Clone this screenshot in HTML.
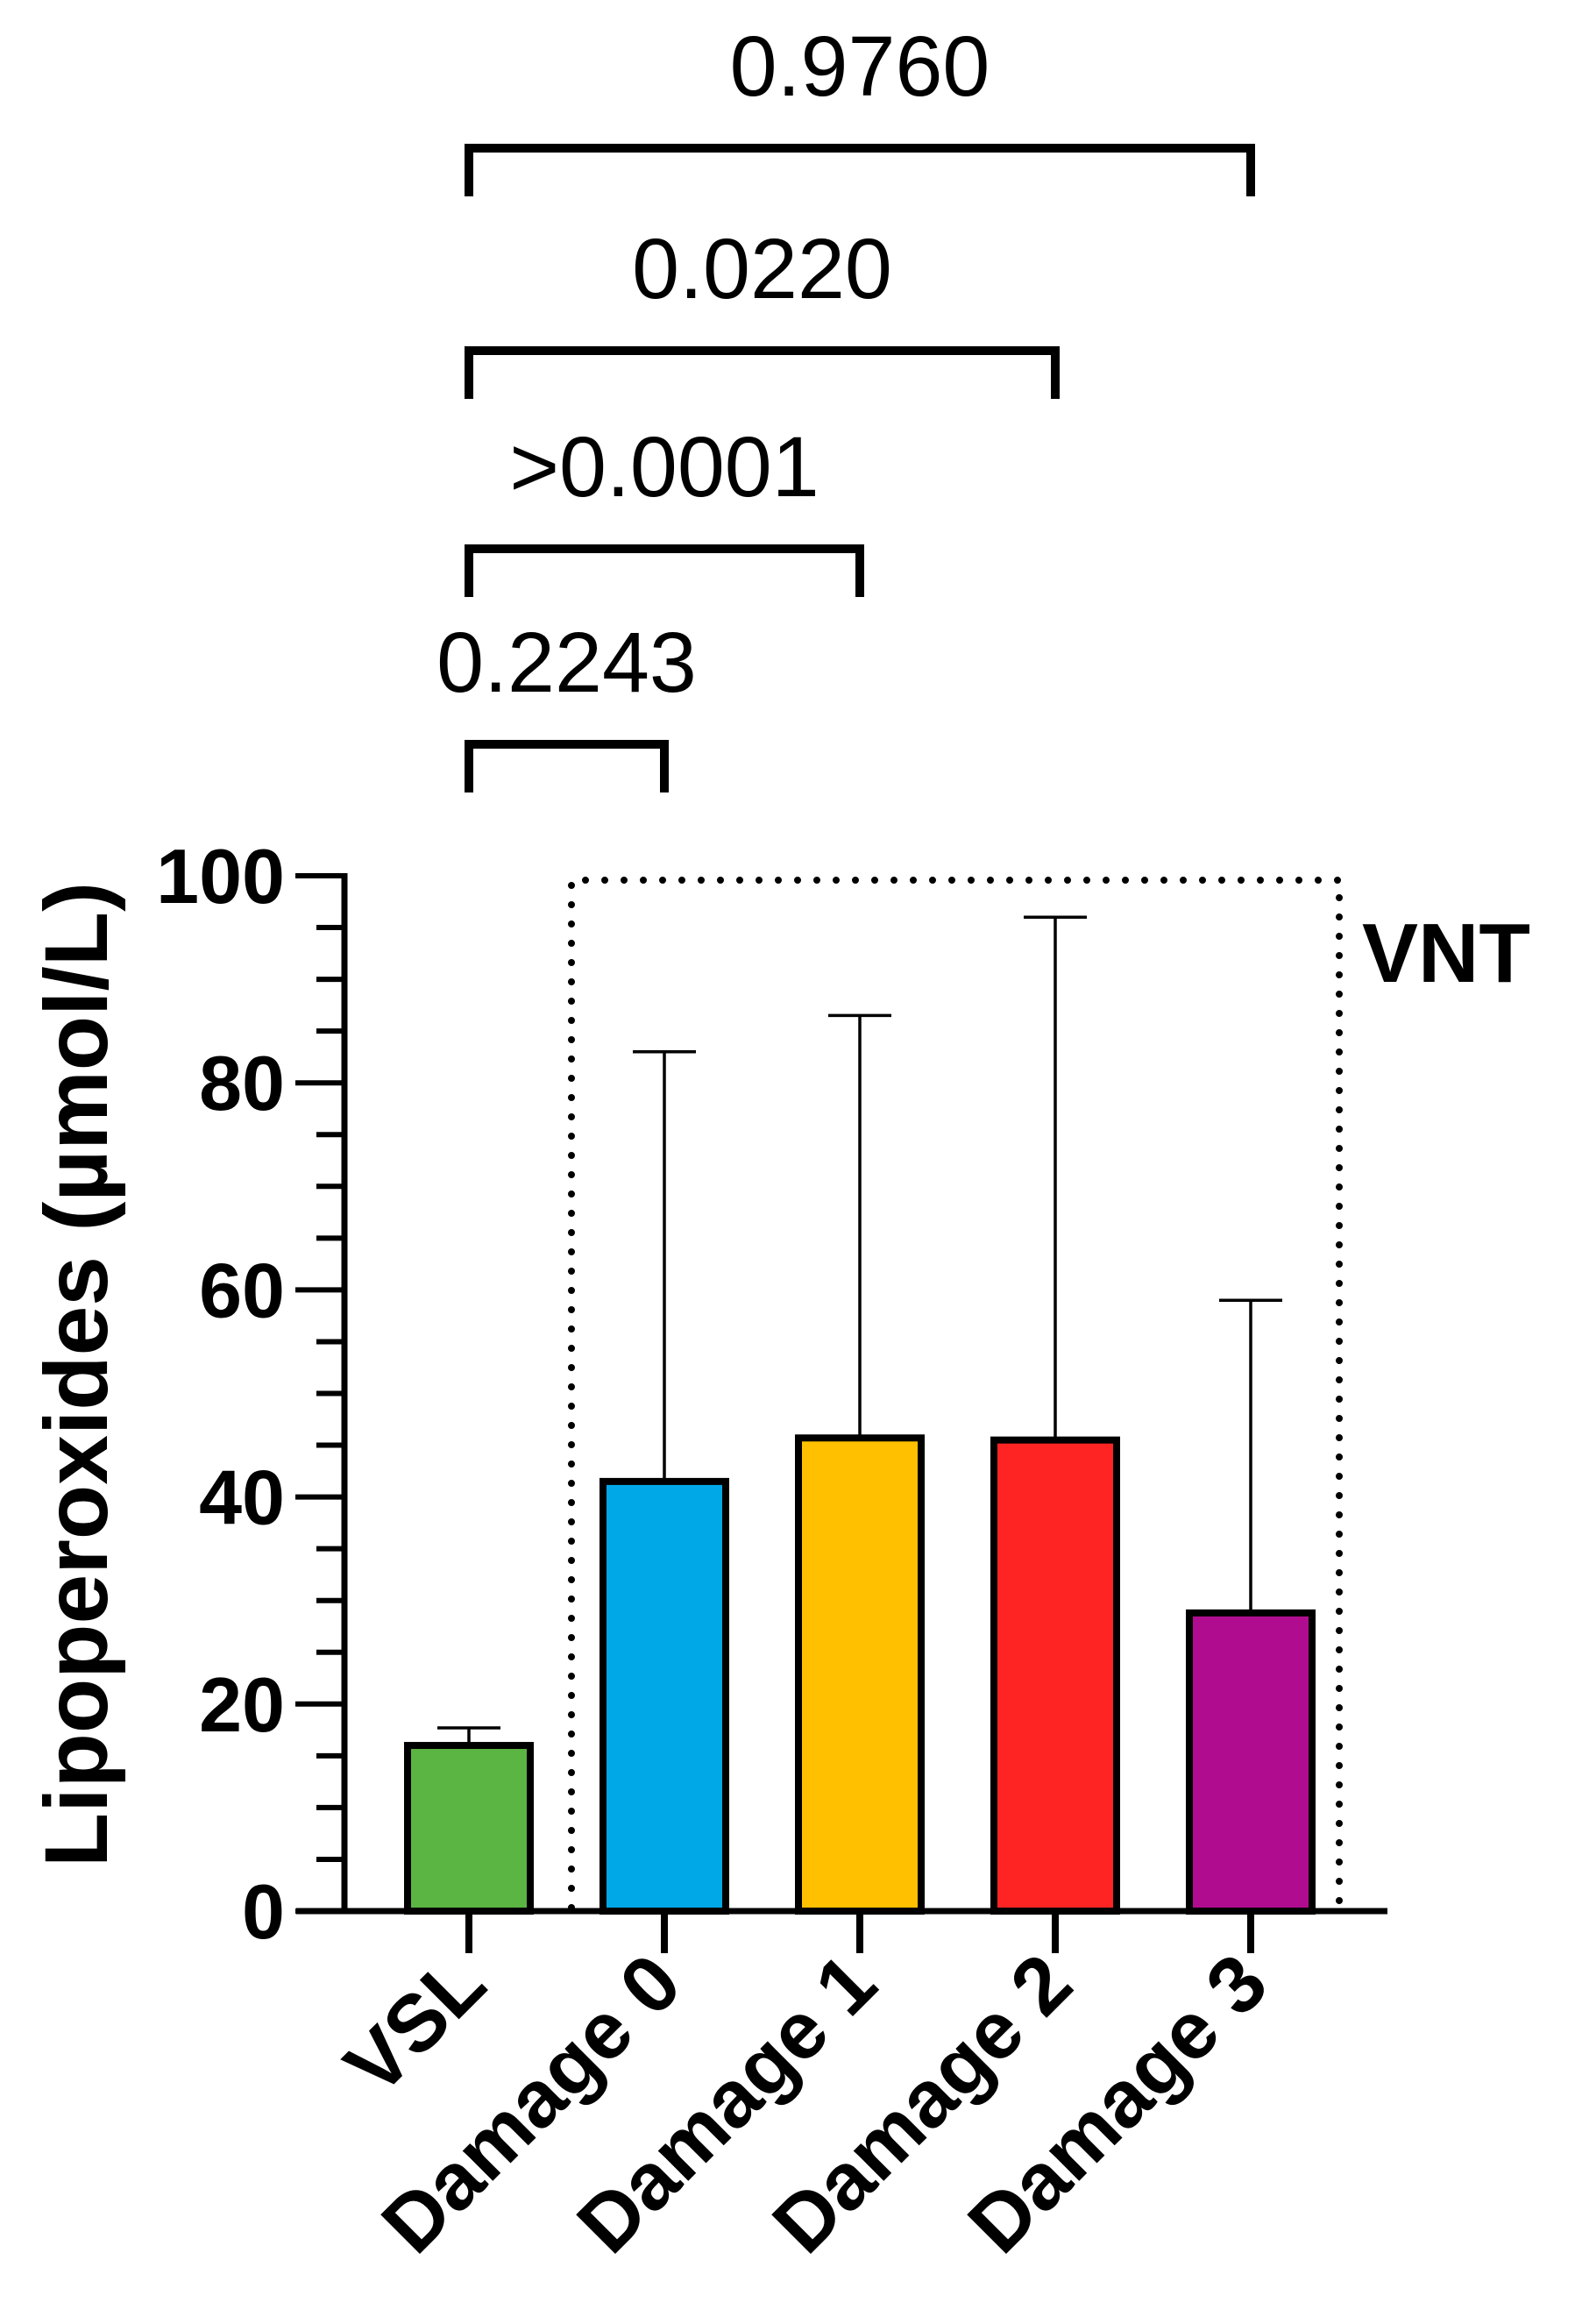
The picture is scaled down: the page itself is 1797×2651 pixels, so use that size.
<!DOCTYPE html>
<html><head><meta charset="utf-8"><style>
html,body{margin:0;padding:0;background:#fff;}
svg{display:block;}
text{font-family:"Liberation Sans",Arial,sans-serif;fill:#000;}
</style></head><body>
<svg id="chart" width="1797" height="2651" viewBox="0 0 1797 2651" xmlns="http://www.w3.org/2000/svg"></svg>
<script>
const categories = ["VSL", "Damage 0", "Damage 1", "Damage 2", "Damage 3"];
const means = [16, 41.5, 45.7, 45.5, 28.8];
const errUpper = [17.7, 83, 86.5, 96, 59];
const yTicks = [0, 20, 40, 60, 80, 100];
const pLabels = ["0.2243", ">0.0001", "0.0220", "0.9760"];
const pTargets = [1, 2, 3, 4];
const colors = ["#5bb543", "#00a8e8", "#ffc000", "#ff2424", "#b00c90"];

const NS = "http://www.w3.org/2000/svg";
const svg = document.getElementById("chart");
function mk(tag, attrs, parent) {
  const e = document.createElementNS(NS, tag);
  for (const k in attrs) e.setAttribute(k, attrs[k]);
  (parent || svg).appendChild(e);
  return e;
}
const y0 = 2180, y100 = 999, axX = 393;
function yScale(v) { return y0 - (v / 100) * (y0 - y100); }
function xScale(i) { return 535 + i * 223; }

// y axis
let el = mk("line", {x1: axX, y1: y100 - 3, x2: axX, y2: y0 + 3, stroke: "#000", "stroke-width": 7});


for (let v = 0; v <= 100; v += 5) {
  const major = v % 20 === 0;
  el = mk("line", {x1: axX - (major ? 56 : 32), y1: yScale(v), x2: axX, y2: yScale(v), stroke: "#000", "stroke-width": 6});
  
  
}
yTicks.forEach(v => {
  const t = mk("text", {x: 325, y: yScale(v) + 31, "text-anchor": "end", "font-size": 88, "font-weight": "bold"});
  t.textContent = v;
  
  
});
// x axis
el = mk("line", {x1: 338, y1: y0, x2: 1583, y2: y0, stroke: "#000", "stroke-width": 7});



// dotted VNT box
el = mk("path", {d: "M652 2176 L652 1004 L1528 1004 L1528 2176", fill: "none", stroke: "#000", "stroke-width": 8, "stroke-dasharray": "0 22", "stroke-linecap": "round"});


el = mk("text", {x: 1554, y: 1120, "font-size": 96, "font-weight": "bold"});
el.textContent = "VNT";



// bars
categories.forEach((c, i) => {
  const cx = xScale(i), w = 140;
  const eb = mk("line", {x1: cx, y1: yScale(means[i]), x2: cx, y2: yScale(errUpper[i]), stroke: "#000", "stroke-width": 3.5});
  
  
  const cap = mk("line", {x1: cx - 36, y1: yScale(errUpper[i]), x2: cx + 36, y2: yScale(errUpper[i]), stroke: "#000", "stroke-width": 3.5});
  
  
  const r = mk("rect", {x: cx - w / 2, y: yScale(means[i]), width: w, height: y0 - yScale(means[i]), fill: colors[i], stroke: "#000", "stroke-width": 8});
  
  
  const tk = mk("line", {x1: cx, y1: y0, x2: cx, y2: y0 + 48, stroke: "#000", "stroke-width": 8});
  
  
  const lx = cx + 24, ly = 2268;
  const t = mk("text", {x: lx, y: ly, "text-anchor": "end", "font-size": 92, "font-weight": "bold", transform: "rotate(-45 " + lx + " " + ly + ")"});
  t.textContent = c;
  
  
});

// y title
el = mk("text", {x: 0, y: 0, "text-anchor": "middle", "font-size": 102, "font-weight": "bold", transform: "translate(122 1568) rotate(-90)"});
el.textContent = "Lipoperoxides (µmol/L)";



// significance brackets
const bracketTop = [849, 626, 400, 169];
pLabels.forEach((p, k) => {
  const xl = xScale(0), xr = xScale(pTargets[k]), yt = bracketTop[k];
  const b = mk("path", {d: `M${xl} ${yt + 55} L${xl} ${yt} L${xr} ${yt} L${xr} ${yt + 55}`, fill: "none", stroke: "#000", "stroke-width": 10});
  
  
  const t = mk("text", {x: (xl + xr) / 2, y: yt - 60, "text-anchor": "middle", "font-size": 97});
  t.textContent = p;
  
  
});
</script>
</body></html>
